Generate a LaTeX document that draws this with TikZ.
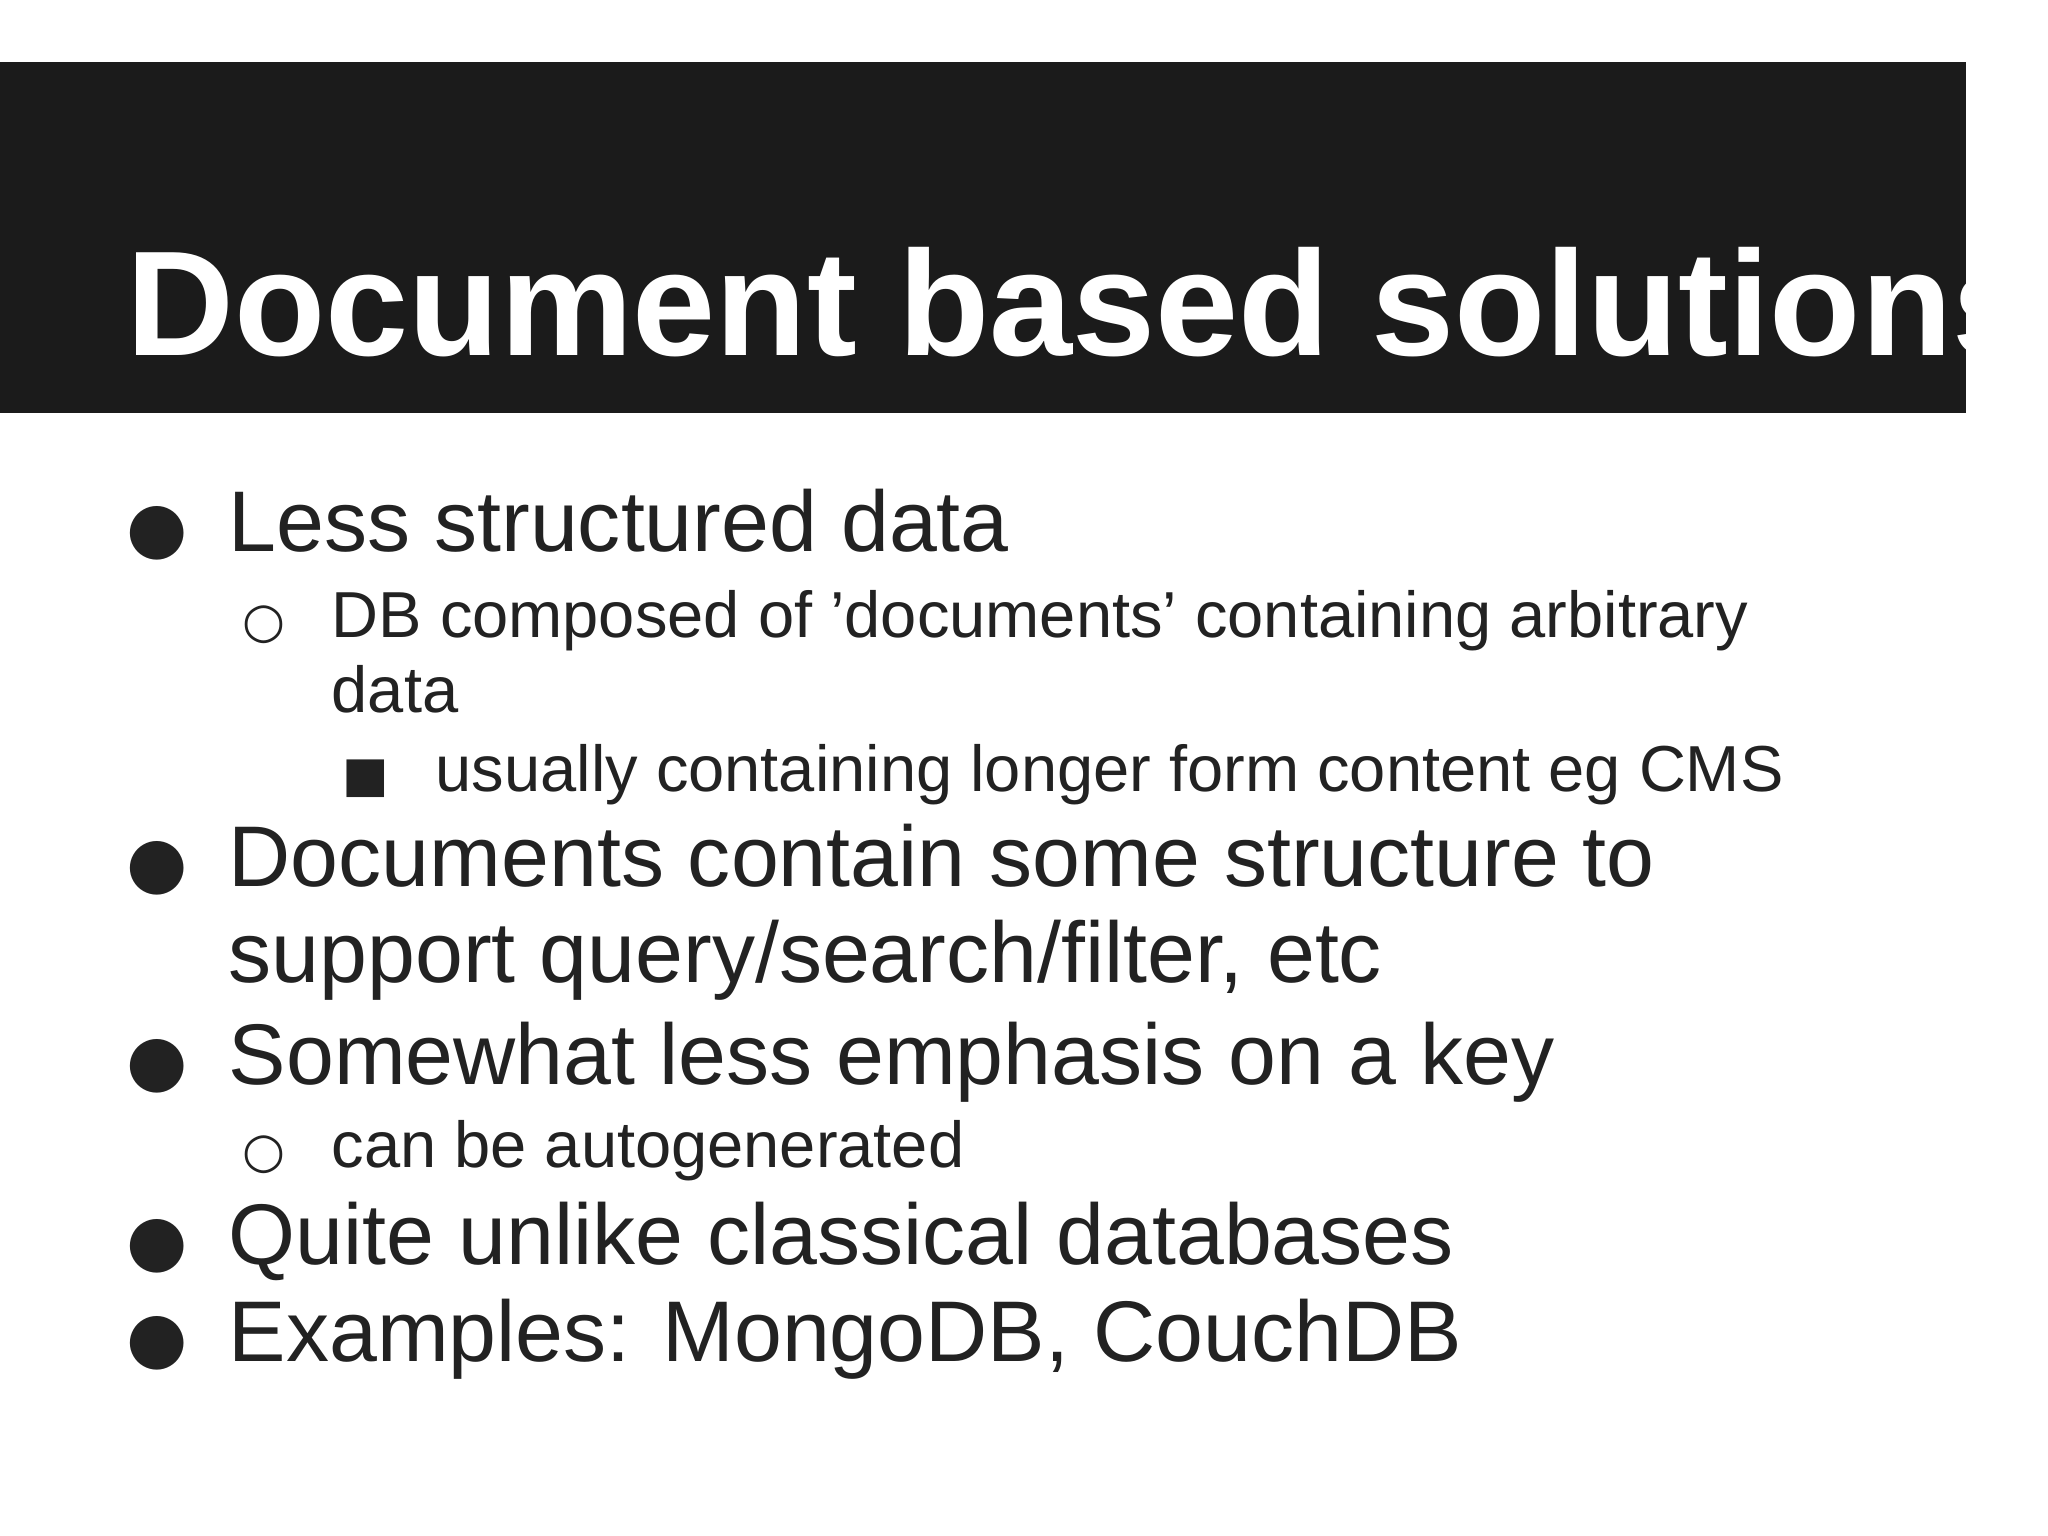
\documentclass[tikz,border=0pt]{standalone}
\usepackage{fontspec}
\setmainfont{Liberation Sans}
\newfontfamily\symf{DejaVu Sans}
\definecolor{txt}{HTML}{222222}
\definecolor{bar}{HTML}{1B1B1B}
\begin{document}
\begin{tikzpicture}[x=1cm,y=1cm,
  lv1/.style={anchor=base west,inner sep=0,text=txt,font=\fontsize{24.5}{29}\selectfont},
  lv2/.style={anchor=base west,inner sep=0,text=txt,font=\fontsize{18.5}{22}\selectfont},
  b1/.style={anchor=base west,inner sep=0,text=txt,font=\symf\fontsize{20}{24}\selectfont},
  b2/.style={anchor=base west,inner sep=0,text=txt,font=\symf\fontsize{14}{17}\selectfont}]
\useasboundingbox (0,0) rectangle (20.48,15.36);
\fill[bar] (0,15.36-0.62) rectangle (19.66,15.36-4.13);
\node[anchor=base west,inner sep=0,text=white,font=\bfseries\fontsize{42.5}{50}\selectfont] (title) at (1.26,15.36-3.56) {Document based solutions};
\node[b1] (p1) at (1.26,15.36-5.52) {●};
\node[lv1] (t1) at (2.28,15.36-5.52) {Less structured data};
\node[b2] (p2) at (2.42,15.36-6.38) {○};
\node[lv2] (t2) at (3.31,15.36-6.38) {DB composed of 'documents' containing arbitrary};
\node[lv2] (t2b) at (3.31,15.36-7.13) {data};
\node[b2] (p3) at (3.42,15.36-7.92) {■};
\node[lv2] (t3) at (4.35,15.36-7.92) {usually containing longer form content eg CMS};
\node[b1] (p4) at (1.26,15.36-8.87) {●};
\node[lv1] (t4) at (2.28,15.36-8.87) {Documents contain some structure to};
\node[lv1] (t4b) at (2.28,15.36-9.83) {support query/search/filter, etc};
\node[b1] (p5) at (1.26,15.36-10.85) {●};
\node[lv1] (t5) at (2.28,15.36-10.85) {Somewhat less emphasis on a key};
\node[b2] (p6) at (2.42,15.36-11.68) {○};
\node[lv2] (t6) at (3.31,15.36-11.68) {can be autogenerated};
\node[b1] (p7) at (1.26,15.36-12.65) {●};
\node[lv1] (t7) at (2.28,15.36-12.65) {Quite unlike classical databases};
\node[b1] (p8) at (1.26,15.36-13.62) {●};
\node[lv1] (t8) at (2.28,15.36-13.62) {Examples: MongoDB, CouchDB};
\end{tikzpicture}
\end{document}
